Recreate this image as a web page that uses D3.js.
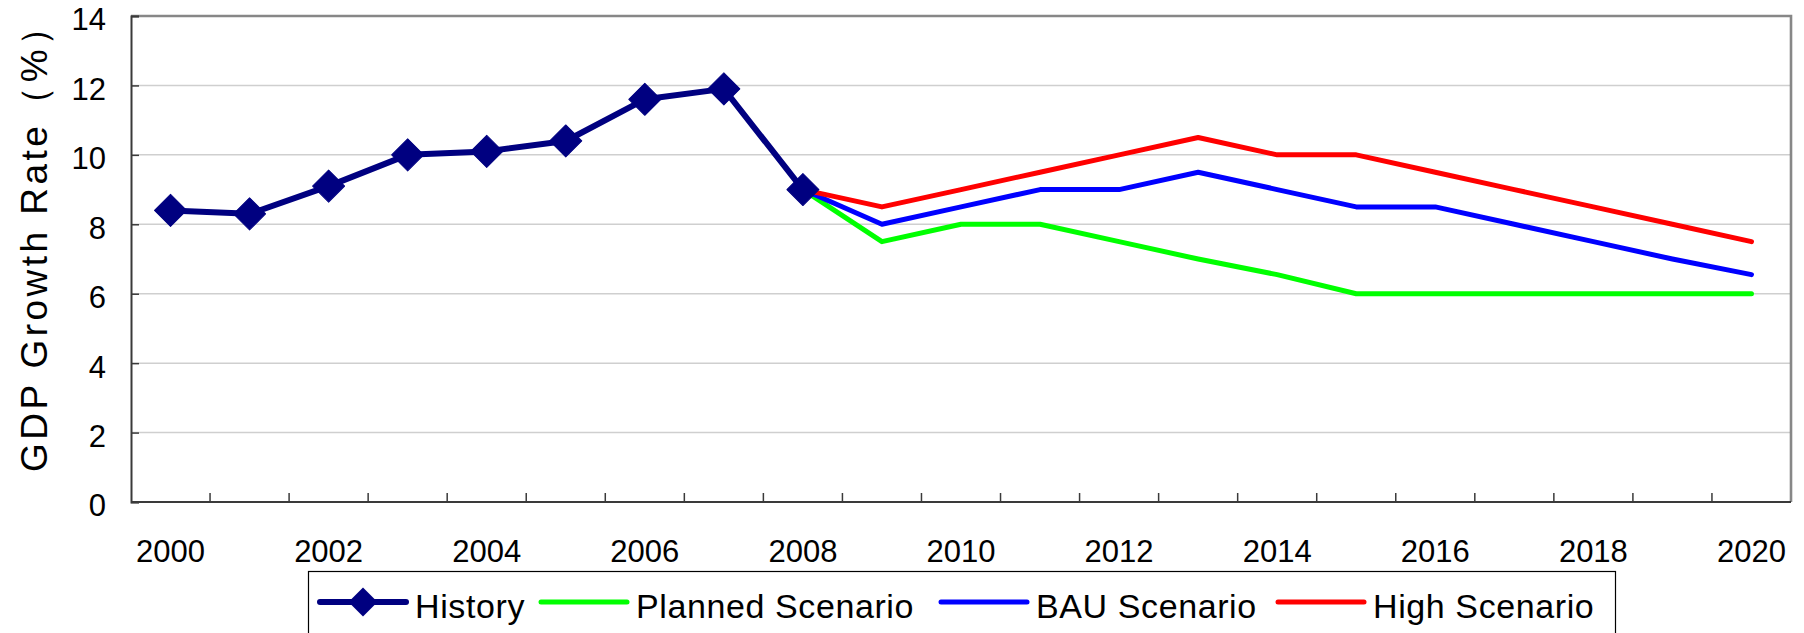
<!DOCTYPE html>
<html>
<head>
<meta charset="utf-8">
<script src="https://cdn.jsdelivr.net/npm/d3@7"></script>
<style>
  html, body { margin: 0; padding: 0; background: #fff; }
  svg { display: block; font-family: "Liberation Sans", Arial, sans-serif; }
</style>
</head>
<body>
<svg id="chart"></svg>
<script>
const years = d3.range(2000, 2021).map(String);
const yTicks = [0, 2, 4, 6, 8, 10, 12, 14];

// History (2000-2008)
const historyYears = ["2000", "2001", "2002", "2003", "2004", "2005", "2006", "2007", "2008"];
const historyValues = [8.4, 8.3, 9.1, 10.0, 10.1, 10.4, 11.6, 11.9, 9.0];

// Scenarios (2008-2020)
const scenarioYears = ["2008", "2009", "2010", "2011", "2012", "2013", "2014",
                       "2015", "2016", "2017", "2018", "2019", "2020"];
const plannedValues = [9.0, 7.5, 8.0, 8.0, 7.5, 7.0, 6.55, 6.0, 6.0, 6.0, 6.0, 6.0, 6.0];
const bauValues     = [9.0, 8.0, 8.5, 9.0, 9.0, 9.5, 9.0, 8.5, 8.5, 8.0, 7.5, 7.0, 6.55];
const highValues    = [9.0, 8.5, 9.0, 9.5, 10.0, 10.5, 10.0, 10.0, 9.5, 9.0, 8.5, 8.0, 7.5];

const width = 1804;
const height = 633;
const margin = { top: 16, right: 13, bottom: 131, left: 131 };

const svg = d3.select("#chart")
  .attr("width", width)
  .attr("height", height);

const x = d3.scaleBand()
  .domain(years)
  .range([margin.left, width - margin.right])
  .padding(0);

const y = d3.scaleLinear()
  .domain([0, 14])
  .range([height - margin.bottom, margin.top]);

const cx = d => x(d) + x.bandwidth() / 2;

// Gridlines
svg.append("g")
  .selectAll("line")
  .data(yTicks.filter(d => d > 0 && d < 14))
  .enter()
  .append("line")
  .attr("x1", margin.left)
  .attr("x2", width - margin.right)
  .attr("y1", d => y(d))
  .attr("y2", d => y(d))
  .attr("stroke", "#cfcfcf")
  .attr("stroke-width", 1.5);

// Top and right frame
svg.append("path")
  .attr("d", `M${margin.left},${y(14)}H${width - margin.right}V${y(0)}`)
  .attr("fill", "none")
  .attr("stroke", "#878787")
  .attr("stroke-width", 2.6);

// Y axis
const yAxis = svg.append("g")
  .attr("transform", `translate(${margin.left},0)`)
  .call(d3.axisLeft(y).tickValues(yTicks).tickSize(-8).tickPadding(25));
yAxis.select(".domain").attr("stroke", "#3a3a3a").attr("stroke-width", 2);
yAxis.selectAll(".tick line").attr("stroke", "#3a3a3a").attr("stroke-width", 1.5);
yAxis.selectAll(".tick text")
  .attr("font-size", 31)
  .attr("font-family", "'Liberation Sans', Arial, sans-serif")
  .attr("fill", "#000")
  .attr("dy", "0.45em");

// X axis: ticks between categories, labels every two years
const xAxis = svg.append("g")
  .attr("transform", `translate(0,${y(0)})`);
xAxis.append("line")
  .attr("x1", margin.left)
  .attr("x2", width - margin.right)
  .attr("stroke", "#3a3a3a")
  .attr("stroke-width", 2);
xAxis.selectAll(".xtick")
  .data(years.slice(1))
  .enter()
  .append("line")
  .attr("class", "xtick")
  .attr("x1", d => x(d))
  .attr("x2", d => x(d))
  .attr("y1", 0)
  .attr("y2", -9)
  .attr("stroke", "#3a3a3a")
  .attr("stroke-width", 1.5);
xAxis.selectAll(".xlabel")
  .data(years.filter((d, i) => i % 2 === 0))
  .enter()
  .append("text")
  .attr("class", "xlabel")
  .attr("x", d => cx(d))
  .attr("y", 60)
  .attr("text-anchor", "middle")
  .attr("font-size", 31)
  .text(d => d);

// Y axis title
svg.append("text")
  .attr("transform", `translate(47,${(472 + 9) / 2}) rotate(-90)`)
  .attr("text-anchor", "middle")
  .attr("font-size", 37)
  .attr("textLength", 463)
  .attr("lengthAdjust", "spacing")
  .text("GDP Growth Rate（%）");

// Lines
const line = d3.line()
  .x(d => cx(d[0]))
  .y(d => y(d[1]));

const scenarios = [
  { name: "Planned Scenario", values: plannedValues, color: "#00ff00" },
  { name: "BAU Scenario", values: bauValues, color: "#0000ff" },
  { name: "High Scenario", values: highValues, color: "#ff0000" }
];

svg.append("g")
  .selectAll("path")
  .data(scenarios)
  .enter()
  .append("path")
  .attr("d", s => line(d3.zip(scenarioYears, s.values)))
  .attr("fill", "none")
  .attr("stroke", s => s.color)
  .attr("stroke-width", 5)
  .attr("stroke-linejoin", "round")
  .attr("stroke-linecap", "round");

const historyData = d3.zip(historyYears, historyValues);
svg.append("path")
  .attr("d", line(historyData))
  .attr("fill", "none")
  .attr("stroke", "#000080")
  .attr("stroke-width", 6)
  .attr("stroke-linejoin", "round");

const diamond = d3.symbol().type(d3.symbolSquare).size(512);
svg.append("g")
  .selectAll("path")
  .data(historyData)
  .enter()
  .append("path")
  .attr("d", diamond)
  .attr("transform", d => `translate(${cx(d[0])},${y(d[1])}) rotate(45)`)
  .attr("fill", "#000080")
  .attr("stroke", "#000080")
  .attr("stroke-width", 1)
  .attr("stroke-linejoin", "round");

// Legend
const legendItems = [
  { name: "History", color: "#000080", marker: true, x: 320 },
  { name: "Planned Scenario", color: "#00ff00", marker: false, x: 541 },
  { name: "BAU Scenario", color: "#0000ff", marker: false, x: 941 },
  { name: "High Scenario", color: "#ff0000", marker: false, x: 1278 }
];

const legend = svg.append("g").attr("id", "legend");
legend.append("rect")
  .attr("x", 308.5)
  .attr("y", 571.5)
  .attr("width", 1307)
  .attr("height", 80)
  .attr("fill", "#fff")
  .attr("stroke", "#000")
  .attr("stroke-width", 1.2);

const item = legend.selectAll(".legend-item")
  .data(legendItems)
  .enter()
  .append("g")
  .attr("class", "legend-item")
  .attr("transform", d => `translate(${d.x},602)`);

item.append("line")
  .attr("x1", 0)
  .attr("x2", 86)
  .attr("stroke", d => d.color)
  .attr("stroke-width", d => d.marker ? 6 : 5)
  .attr("stroke-linecap", "round");

item.filter(d => d.marker)
  .append("path")
  .attr("d", d3.symbol().type(d3.symbolSquare).size(420))
  .attr("transform", "translate(43,0) rotate(45)")
  .attr("fill", "#000080");

item.append("text")
  .attr("x", 95)
  .attr("y", 16)
  .attr("font-size", 34)
  .attr("letter-spacing", 0.6)
  .text(d => d.name);
</script>
</body>
</html>
